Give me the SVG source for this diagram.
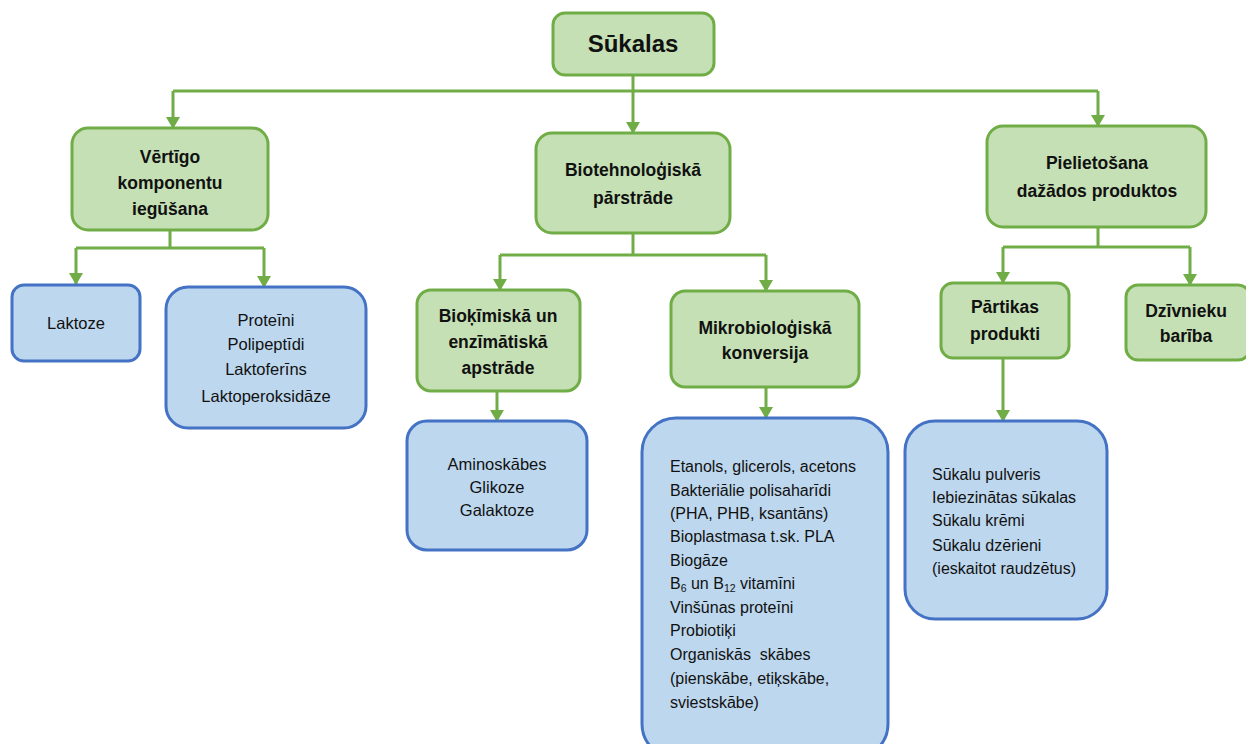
<svg xmlns="http://www.w3.org/2000/svg" width="1246" height="744" viewBox="0 0 1246 744">
<style>
.g{fill:#C5E0B4;stroke:#70AD47;stroke-width:3}
.b{fill:#BDD7EE;stroke:#4472C4;stroke-width:3}
.c{fill:none;stroke:#70AD47;stroke-width:3}
text{font-family:"Liberation Sans",Arial,sans-serif;fill:#111}
.tb{font-weight:bold;font-size:17.5px;text-anchor:middle}
.tr{font-size:16.5px;text-anchor:middle}
.tl{font-size:16px}
</style>
<defs>
<marker id="a" markerUnits="userSpaceOnUse" markerWidth="14" markerHeight="12" viewBox="0 0 14 12" refX="7" refY="11" orient="0">
<path d="M0,0 L14,0 L7,12 Z" fill="#70AD47"/>
</marker>
</defs>
<g id="connectors">
<path class="c" d="M633,75 V91"/>
<path class="c" d="M173,91 H1098"/>
<path class="c" d="M173,91 V128" marker-end="url(#a)"/>
<path class="c" d="M633,91 V133" marker-end="url(#a)"/>
<path class="c" d="M1098,91 V126" marker-end="url(#a)"/>
<path class="c" d="M170,230 V248 M76,248 H264"/>
<path class="c" d="M76,248 V284" marker-end="url(#a)"/>
<path class="c" d="M264,248 V287" marker-end="url(#a)"/>
<path class="c" d="M633,233 V255 M500,255 H766"/>
<path class="c" d="M500,255 V290" marker-end="url(#a)"/>
<path class="c" d="M766,255 V291" marker-end="url(#a)"/>
<path class="c" d="M497,391 V421" marker-end="url(#a)"/>
<path class="c" d="M766,387 V418" marker-end="url(#a)"/>
<path class="c" d="M1098,227 V247 M1003,247 H1190"/>
<path class="c" d="M1003,247 V283" marker-end="url(#a)"/>
<path class="c" d="M1190,247 V285" marker-end="url(#a)"/>
<path class="c" d="M1003,358 V421" marker-end="url(#a)"/>
</g>
<g id="sukalas">
<rect class="g" x="553" y="13" width="161" height="62" rx="12"/>
<text x="633" y="52" style="font-weight:bold;font-size:24px;text-anchor:middle">Sūkalas</text>
</g>
<g id="vertigo">
<rect class="g" x="72" y="128" width="196" height="102" rx="16"/>
<text class="tb" x="170" y="163">Vērtīgo</text>
<text class="tb" x="170" y="189">komponentu</text>
<text class="tb" x="170" y="215">iegūšana</text>
</g>
<g id="biotehn">
<rect class="g" x="536" y="133" width="194" height="100" rx="16"/>
<text class="tb" x="633" y="176">Biotehnoloģiskā</text>
<text class="tb" x="633" y="204">pārstrāde</text>
</g>
<g id="pielietosana">
<rect class="g" x="987" y="126" width="219" height="101" rx="16"/>
<text class="tb" x="1097" y="169">Pielietošana</text>
<text class="tb" x="1097" y="197">dažādos produktos</text>
</g>
<g id="laktoze">
<rect class="b" x="12" y="285" width="128" height="76" rx="12"/>
<text class="tr" x="76" y="329">Laktoze</text>
</g>
<g id="proteini">
<rect class="b" x="166" y="287" width="200" height="141" rx="22"/>
<text class="tr" x="266" y="326">Proteīni</text>
<text class="tr" x="266" y="350">Polipeptīdi</text>
<text class="tr" x="266" y="375">Laktoferīns</text>
<text class="tr" x="266" y="402">Laktoperoksidāze</text>
</g>
<g id="biokimiska">
<rect class="g" x="417" y="290" width="163" height="101" rx="14"/>
<text class="tb" x="498" y="322">Bioķīmiskā un</text>
<text class="tb" x="498" y="348">enzīmātiskā</text>
<text class="tb" x="498" y="374">apstrāde</text>
</g>
<g id="mikrobio">
<rect class="g" x="671" y="291" width="188" height="96" rx="14"/>
<text class="tb" x="765" y="334">Mikrobioloģiskā</text>
<text class="tb" x="765" y="359">konversija</text>
</g>
<g id="aminoskabes">
<rect class="b" x="407" y="421" width="180" height="129" rx="20"/>
<text class="tr" x="497" y="470">Aminoskābes</text>
<text class="tr" x="497" y="493">Glikoze</text>
<text class="tr" x="497" y="516">Galaktoze</text>
</g>
<g id="produkti-mikro">
<rect class="b" x="642" y="418" width="246" height="340" rx="34"/>
<text class="tl" x="670" y="472">Etanols, glicerols, acetons</text>
<text class="tl" x="670" y="496">Bakteriālie polisaharīdi</text>
<text class="tl" x="670" y="519">(PHA, PHB, ksantāns)</text>
<text class="tl" x="670" y="542">Bioplastmasa t.sk. PLA</text>
<text class="tl" x="670" y="566">Biogāze</text>
<text class="tl" x="670" y="589">B<tspan font-size="10.5" dy="3">6</tspan><tspan dy="-3"> un B</tspan><tspan font-size="10.5" dy="3">12</tspan><tspan dy="-3"> vitamīni</tspan></text>
<text class="tl" x="670" y="613">Vinšūnas proteīni</text>
<text class="tl" x="670" y="636">Probiotiķi</text>
<text class="tl" x="670" y="660" xml:space="preserve">Organiskās  skābes</text>
<text class="tl" x="670" y="684">(pienskābe, etiķskābe,</text>
<text class="tl" x="670" y="708">sviestskābe)</text>
</g>
<g id="partikas">
<rect class="g" x="941" y="283" width="128" height="75" rx="12"/>
<text class="tb" x="1005" y="313">Pārtikas</text>
<text class="tb" x="1005" y="340">produkti</text>
</g>
<g id="dzivnieku">
<rect class="g" x="1126" y="285" width="124" height="75" rx="12"/>
<text class="tb" x="1186" y="317">Dzīvnieku</text>
<text class="tb" x="1186" y="342">barība</text>
</g>
<g id="sukalu-produkti">
<rect class="b" x="905" y="421" width="202" height="198" rx="30"/>
<text class="tl" x="932" y="480">Sūkalu pulveris</text>
<text class="tl" x="932" y="503">Iebiezinātas sūkalas</text>
<text class="tl" x="932" y="526">Sūkalu krēmi</text>
<text class="tl" x="932" y="551">Sūkalu dzērieni</text>
<text class="tl" x="932" y="574">(ieskaitot raudzētus)</text>
</g>
</svg>
